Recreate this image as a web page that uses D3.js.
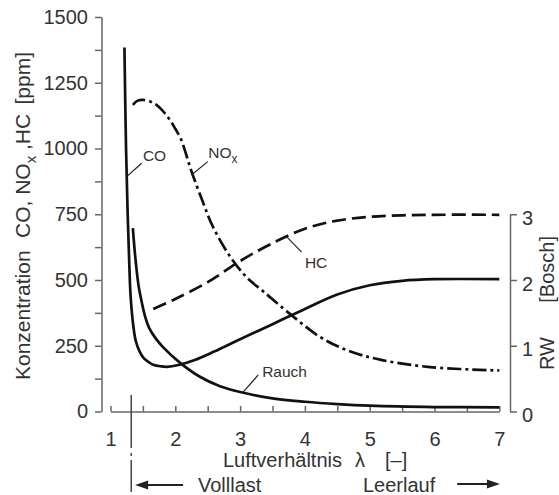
<!DOCTYPE html>
<html>
<head>
<meta charset="utf-8">
<script src="https://cdn.jsdelivr.net/npm/d3@7"></script>
<style>
  body { margin: 0; background: #fff; }
  svg { display: block; font-family: "Liberation Sans", Arial, sans-serif; }
  .axis path, .axis line { stroke: #666; stroke-width: 1.5; }
  .axis text { fill: #333; font-size: 20px; font-family: "Liberation Sans", Arial, sans-serif; }
  .curve { fill: none; stroke: #111; stroke-width: 2.7; }
  .lbl { fill: #333; font-size: 15.5px; }
  .big { fill: #333; font-size: 20px; }
  .leader { stroke: #222; stroke-width: 1.2; }
</style>
</head>
<body>
<svg id="chart" width="559" height="495"></svg>
<script>
// Luftverhaeltnis lambda and concentrations in ppm (RW = ppm / 250)
var lambdaCO = [1.215, 1.24, 1.265, 1.29, 1.31, 1.35, 1.39, 1.45, 1.52, 1.6, 1.67, 1.77, 1.87, 2.05, 2.3, 2.6, 3.0, 3.5, 4.0, 4.5, 5.0, 5.5, 6.0, 7.0];
var valueCO  = [1384, 1000, 750, 560, 440, 330, 268, 228, 201, 186, 177, 172, 170, 177, 196, 228, 275, 332, 390, 445, 480, 497, 503, 503];

var lambdaNOx = [1.345, 1.42, 1.5, 1.62, 1.7, 1.8, 1.91, 2.0, 2.09, 2.24, 2.42, 2.58, 2.83, 3.09, 3.36, 3.75, 4.23, 4.65, 5.16, 5.93, 7.0];
var valueNOx  = [1166, 1182, 1185, 1178, 1168, 1145, 1111, 1075, 1034, 920, 800, 703, 595, 513, 456, 375, 284, 233, 197, 169, 156];

var lambdaHC = [1.66, 2.0, 2.5, 3.0, 3.5, 4.0, 4.5, 5.0, 5.5, 6.0, 7.0];
var valueHC  = [390, 428, 492, 572, 640, 695, 726, 740, 746, 748, 748];

var lambdaRauch = [1.345, 1.37, 1.4, 1.435, 1.475, 1.53, 1.6, 1.7, 1.81, 2.07, 2.38, 2.69, 3.0, 3.5, 4.0, 4.5, 5.0, 6.0, 7.0];
var valueRauch  = [697, 620, 545, 475, 424, 365, 316, 277, 245, 186, 132, 96, 74, 50, 37, 28, 22, 17, 16];

var ppmTicks = d3.range(0, 1501, 125);
var lambdaTicks = d3.range(1, 7.01, 0.5);
var rwTicks = [0, 1, 2, 3];
var lambdaVolllast = 1.32;

var svg = d3.select("#chart");

var x = d3.scaleLinear().domain([1, 7]).range([110.5, 499.3]),
    y = d3.scaleLinear().domain([0, 1500]).range([411.5, 17]),
    yR = d3.scaleLinear().domain([0, 3]).range([y(0), y(750)]);

// left axis
svg.append("g")
    .attr("class", "axis")
    .attr("transform", "translate(101.5,0)")
    .call(d3.axisLeft(y).tickValues(ppmTicks).tickSizeInner(6.5).tickSizeOuter(0).tickPadding(7)
      .tickFormat(function(d) { return d % 250 === 0 ? d : ""; }));

// bottom axis, ticks pointing up
svg.append("g")
    .attr("class", "axis")
    .attr("transform", "translate(0," + y(0) + ")")
    .call(d3.axisBottom(x).tickValues(lambdaTicks).tickSizeInner(-5.5).tickSizeOuter(0).tickPadding(20)
      .tickFormat(function(d) { return d % 1 === 0 ? d : ""; }));

// right axis RW
svg.append("g")
    .attr("class", "axis")
    .attr("transform", "translate(510,0)")
    .call(d3.axisRight(yR).tickValues(rwTicks).tickSizeInner(7).tickSizeOuter(0).tickPadding(5)
      .tickFormat(d3.format("d")))
  .selectAll("text").attr("dy", "0.5em");

// Volllast marker line
svg.append("line")
    .attr("x1", x(lambdaVolllast)).attr("x2", x(lambdaVolllast))
    .attr("y1", y(0) - 16.5).attr("y2", 492)
    .attr("stroke", "#444").attr("stroke-width", 1.5)
    .attr("stroke-dasharray", "53,5,3,4,60");

var line = d3.line()
    .x(function(d) { return x(d[0]); })
    .y(function(d) { return y(d[1]); })
    .curve(d3.curveCatmullRom.alpha(0.5));

function drawCurve(lx, ly, dash) {
  svg.append("path")
      .datum(d3.zip(lx, ly))
      .attr("class", "curve")
      .attr("stroke-dasharray", dash)
      .attr("d", line);
}
drawCurve(lambdaCO, valueCO, null);
drawCurve(lambdaRauch, valueRauch, null);
drawCurve(lambdaHC, valueHC, "14,6");
drawCurve(lambdaNOx, valueNOx, "14,4,3,4");

// curve labels with leader lines
function leader(l1, v1, l2, v2) {
  svg.append("line").attr("class", "leader")
      .attr("x1", x(l1)).attr("y1", y(v1))
      .attr("x2", x(l2)).attr("y2", y(v2));
}
leader(1.25, 893, 1.48, 944);
svg.append("text").attr("class", "lbl").attr("x", x(1.5)).attr("y", y(952)).text("CO");

leader(2.25, 899, 2.5, 950);
var nox = svg.append("text").attr("class", "lbl").attr("x", x(2.51)).attr("y", y(963));
nox.append("tspan").text("NO");
nox.append("tspan").attr("dy", 5).style("font-size", "12px").text("x");

leader(3.72, 664, 3.95, 606);
svg.append("text").attr("class", "lbl").attr("x", x(4.0)).attr("y", y(545)).text("HC");

leader(3.05, 75, 3.28, 139);
svg.append("text").attr("class", "lbl").attr("x", x(3.34)).attr("y", y(131)).text("Rauch");

// axis titles, pieces placed along the axis
function vtext(tx, ty, anchor, size) {
  return svg.append("text").attr("class", "big")
      .style("font-size", size + "px")
      .attr("text-anchor", anchor)
      .attr("transform", "translate(" + tx + "," + ty + ") rotate(-90)");
}
vtext(30, 380, "start", 21).text("Konzentration");
var co = vtext(30, 238, "start", 21);
co.append("tspan").text("CO, NO");
co.append("tspan").attr("dy", 6).style("font-size", "15px").text("x");
co.append("tspan").attr("dy", -6).text(" ,HC");
vtext(30, 52, "end", 21).text("[ppm]");

vtext(554, 370, "start", 20).text("RW");
vtext(554, 236, "end", 20).text("[Bosch]");

// x axis title
svg.append("text").attr("class", "big").attr("x", 223).attr("y", 467).text("Luftverhältnis");
svg.append("text").attr("class", "big").attr("x", 355).attr("y", 467).text("λ");
svg.append("text").attr("class", "big").attr("x", 385).attr("y", 467).text("[–]");

// Volllast / Leerlauf arrows
function arrow(x1, x2, yy) {
  var dir = x2 > x1 ? 1 : -1;
  svg.append("line").attr("x1", x1).attr("x2", x2 - dir * 10).attr("y1", yy).attr("y2", yy)
      .attr("stroke", "#222").attr("stroke-width", 1.8);
  svg.append("path")
      .attr("d", "M" + x2 + "," + yy + "L" + (x2 - dir * 13) + "," + (yy - 4.5) + "L" + (x2 - dir * 13) + "," + (yy + 4.5) + "Z")
      .attr("fill", "#222");
}
arrow(x(2.12), x(1.38), 485);
arrow(x(6.35), x(7.01), 484);
svg.append("text").attr("class", "big").attr("x", 198).attr("y", 492).text("Volllast");
svg.append("text").attr("class", "big").attr("x", 363).attr("y", 492).text("Leerlauf");
</script>
</body>
</html>
